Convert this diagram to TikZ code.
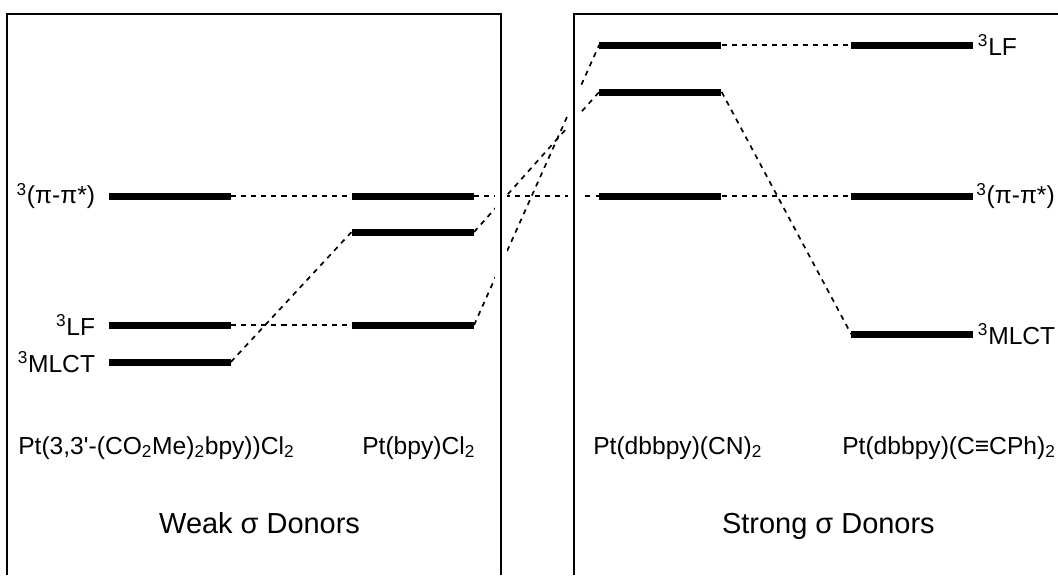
\documentclass[tikz,border=0pt]{standalone}
\usepackage{fontspec}
\setmainfont{Liberation Sans}
\usetikzlibrary{positioning}

\begin{document}
\begin{tikzpicture}[
  font=\fontsize{17.5}{21}\selectfont,
  level/.style={fill=black, inner sep=0pt, minimum width=3.05cm, minimum height=0.175cm},
  state/.style={inner sep=0pt},
  cmpd/.style={inner sep=0pt, anchor=base west},
  group/.style={inner sep=0pt, anchor=base, font=\fontsize{20.6}{24}\selectfont},
  frame/.style={line width=1.4pt, preaction={draw=white, line width=9pt}},
  link/.style={line width=1.2pt, dash pattern=on 3.6pt off 3.6pt}
]
\useasboundingbox (0,0) rectangle (26.45,-14.375);

% energy levels, weak donors
\node[level] (pipi1) at (4.24,-4.9) {};
\node[level] (lf1) at (4.24,-8.125) {};
\node[level] (mlct1) at (4.24,-9.05) {};
\node[level] (pipi2) at (10.32,-4.9) {};
\node[level] (mlct2) at (10.32,-5.8) {};
\node[level] (lf2) at (10.32,-8.125) {};
% energy levels, strong donors
\node[level] (lf3) at (16.51,-1.125) {};
\node[level] (mlct3) at (16.51,-2.3) {};
\node[level] (pipi3) at (16.51,-4.9) {};
\node[level] (lf4) at (22.81,-1.125) {};
\node[level] (pipi4) at (22.81,-4.9) {};
\node[level] (mlct4) at (22.81,-8.35) {};

\draw[link] (pipi1.east) -- (pipi2.west);
\draw[link] (pipi2.east) -- (pipi3.west);
\draw[link] (pipi3.east) -- (pipi4.west);
\draw[link] (lf1.east) -- (lf2.west);
\draw[link] (lf2.east) -- (lf3.west);
\draw[link] (lf3.east) -- (lf4.west);
\draw[link] (mlct1.east) -- (mlct2.west);
\draw[link] (mlct2.east) -- (mlct3.west);
\draw[link] (mlct3.east) -- (mlct4.west);

% panels
\draw[frame] (0.175,-14.375) |- (12.525,-0.35) -- (12.525,-14.375);
\draw[frame] (14.35,-14.375) |- (26.45,-0.35);

\node[state, left=0.325cm of pipi1] {\textsuperscript{3}(π-π*)};
\node[state, left=0.325cm of lf1] {\textsuperscript{3}LF};
\node[state, left=0.325cm of mlct1] {\textsuperscript{3}MLCT};
\node[state, right=0.1cm of lf4] {\textsuperscript{3}LF};
\node[state, right=0.06cm of pipi4] {\textsuperscript{3}(π-π*)};
\node[state, right=0.1cm of mlct4] {\textsuperscript{3}MLCT};

\node[cmpd] (cmpdA) at (0.45,-11.35) {Pt(3,3\textquotesingle-(CO\textsubscript{2}Me)\textsubscript{2}bpy))Cl\textsubscript{2}};
\node[cmpd] (cmpdB) at (9.05,-11.35) {Pt(bpy)Cl\textsubscript{2}};
\node[cmpd] (cmpdC) at (14.825,-11.35) {Pt(dbbpy)(CN)\textsubscript{2}};
\node[cmpd] (cmpdD) at (21.05,-11.35) {Pt(dbbpy)(C≡CPh)\textsubscript{2}};

\node[group] (weak) at (6.49,-13.325) {Weak σ Donors};
\node[group] (strong) at (20.71,-13.325) {Strong σ Donors};
\end{tikzpicture}
\end{document}
